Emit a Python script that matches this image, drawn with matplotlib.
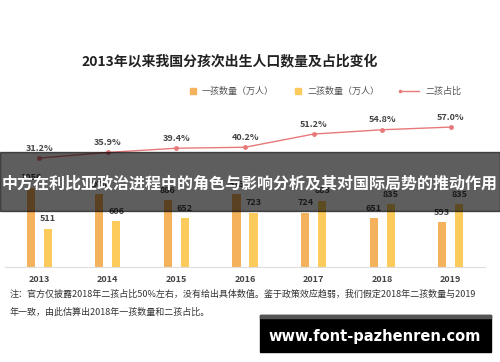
import numpy as np
import matplotlib
matplotlib.use("Agg")
import matplotlib.pyplot as plt
from matplotlib.patches import Rectangle

plt.rcParams['font.family'] = ['Noto Sans CJK SC', 'DejaVu Sans']

years = ["2013", "2014", "2015", "2016", "2017", "2018", "2019"]
first_child = [1056, 970, 886, 973, 724, 651, 593]
second_child = [511, 606, 652, 723, 883, 835, 835]
second_share = [31.2, 35.9, 39.4, 40.2, 51.2, 54.8, 57.0]

c_first = "#F5B25C"
c_second = "#FDCB5C"
c_line = "#E8797A"
c_text = "#444444"

fig = plt.figure(figsize=(5, 3.62), dpi=100)
H = 362.0

ax = fig.add_axes([5 / 500, 1 - 267 / H, 480 / 500, 147 / H])
x = np.arange(len(years))
off = 0.124
w = 0.118
ax.bar(x - off, first_child, w, color=c_first)
ax.bar(x + off, second_child, w, color=c_second)
for i in range(len(years)):
    ax.text(x[i] - off, first_child[i] + 70, str(first_child[i]), ha="center", va="bottom",
            fontsize=6.5, color=c_text, fontweight="bold")
    ax.text(x[i] + off, second_child[i] + 70, str(second_child[i]), ha="center", va="bottom",
            fontsize=6.5, color=c_text, fontweight="bold")
ax.set_xlim(-0.5, 6.5)
ax.set_ylim(0, 147 / 0.0751)
ax.set_xticks(x)
ax.set_xticklabels(years, fontsize=6.5, color=c_text, fontweight="bold")
ax.tick_params(axis="x", length=0, pad=6)
ax.set_yticks([])
for s in ["top", "right", "left"]:
    ax.spines[s].set_visible(False)
ax.spines["bottom"].set_color("#dddddd")

ax2 = ax.twinx()
ax2.plot(x, second_share, color=c_line, lw=1, marker="o", ms=2.5)
for i in range(len(years)):
    ax2.text(x[i], second_share[i] + 4.5, "%.1f%%" % second_share[i], ha="center", va="bottom",
             fontsize=6.5, color=c_text, fontweight="bold")
ax2.set_ylim(-71.5 / 1.2, 75.5 / 1.2)
ax2.set_yticks([])
for s in ["top", "right", "left", "bottom"]:
    ax2.spines[s].set_visible(False)

# title
fig.text(230 / 500, 1 - 61 / H, "2013年以来我国分孩次出生人口数量及占比变化", ha="center", va="center",
         fontsize=10, fontweight="bold", color="#222222")

# legend
ly = 1 - 91 / H
fig.patches.append(Rectangle((190 / 500, 1 - 94 / H), 6 / 500, 6 / H, color=c_first, transform=fig.transFigure))
fig.text(202 / 500, ly, "一孩数量（万人）", fontsize=6.5, color="#555555", va="center")
fig.patches.append(Rectangle((295 / 500, 1 - 94 / H), 6 / 500, 6 / H, color=c_second, transform=fig.transFigure))
fig.text(307 / 500, ly, "二孩数量（万人）", fontsize=6.5, color="#555555", va="center")
fig.lines.append(plt.Line2D([400 / 500, 419 / 500], [ly, ly], color=c_line, lw=1, marker="o", ms=1.5,
                            markevery=[0], transform=fig.transFigure))
fig.text(425 / 500, ly, "二孩占比", fontsize=6.5, color="#555555", va="center")

# note
fig.text(10 / 500, 1 - 294 / H, "注：官方仅披露2018年二孩占比50%左右，没有给出具体数值。鉴于政策效应趋弱，我们假定2018年二孩数量与2019",
         fontsize=6.5, color="#333333", va="center")
fig.text(10 / 500, 1 - 312 / H, "年一致，由此估算出2018年一孩数量和二孩占比。",
         fontsize=6.5, color="#333333", va="center")

# overlay banner
fig.patches.append(Rectangle((0, 1 - 211 / H), 1, 59 / H, color="black", alpha=0.63,
                             transform=fig.transFigure, zorder=10))
fig.text(0.5, 1 - 183 / H, "中方在利比亚政治进程中的角色与影响分析及其对国际局势的推动作用", ha="center", va="center",
         fontsize=11.5, fontweight="bold", color="white", zorder=11)

# watermark box
fig.patches.append(Rectangle((260 / 500, 1 - 352 / H), 231 / 500, 37 / H, color="black",
                             transform=fig.transFigure, zorder=10))
fig.patches.append(Rectangle((260 / 500, 1 - 318 / H), 231 / 500, 3 / H, color="#555555",
                             transform=fig.transFigure, zorder=11))
fig.text(375 / 500, 1 - 336 / H, "www.font-pazhenren.com", ha="center", va="center",
         fontsize=10.5, fontweight="bold", color="white", zorder=12, family="DejaVu Sans")

fig.savefig("out.png", dpi=100)
